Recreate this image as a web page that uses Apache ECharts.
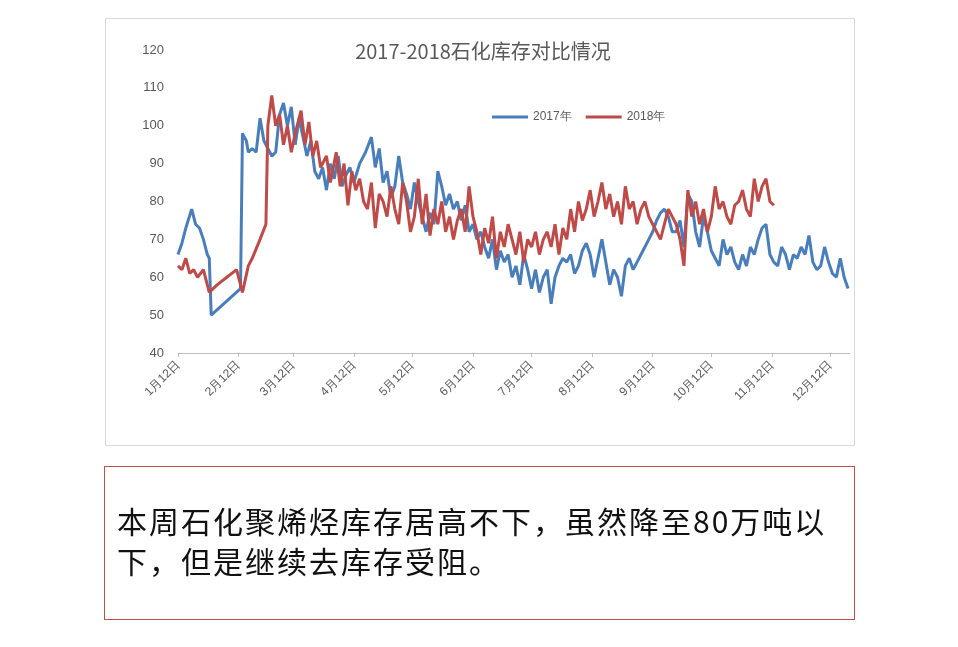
<!DOCTYPE html><html><head><meta charset="utf-8">
<script src="https://cdn.jsdelivr.net/npm/echarts@6/dist/echarts.min.js"></script>
<style>body{margin:0;background:#fff;font-family:"Noto Sans CJK SC",sans-serif}
#frame{position:absolute;left:105px;top:18px;width:748px;height:426px;border:1px solid #d9d9d9}
#c{position:absolute;left:0;top:0;width:958px;height:647px}
#note{position:absolute;left:104px;top:466px;width:751px;height:154px;border:1px solid #c0504d;box-sizing:border-box;padding:33px 0 0 12px;font-size:30px;letter-spacing:2px;line-height:40px;color:#111;font-family:"Noto Sans CJK SC",sans-serif}
</style></head><body>
<div id="frame"></div><div id="c"></div>
<div id="note">本周石化聚烯烃库存居高不下，虽然降至80万吨以<br>下，但是继续去库存受阻。</div>
<script>
const months=['1月','2月','3月','4月','5月','6月','7月','8月','9月','10月','11月','12月'];
const daysInMonth=[31,28,31,30,31,30,31,31,30,31,30,31];
// [day offset from 1月12日, value]
const series2017=[[0,66],[2,69],[4,73],[7,78],[9,74],[11,73],[13,70],[15,66],[16,65],[17,50],[32,57],[33,98],[35,96],[36,93],[38,94],[40,93],[42,102],[44,96],[46,94],[48,92],[50,93],[52,103],[54,106],[56,100],[58,105],[60,95],[62,102],[64,97],[66,92],[68,96],[70,88],[72,86],[74,89],[76,83],[78,90],[80,86],[82,92],[84,84],[86,87],[88,89],[90,85],[93,90],[96,93],[99,97],[101,89],[103,94],[105,85],[107,88],[109,81],[111,84],[113,92],[115,85],[117,82],[119,78],[121,85],[123,80],[125,76],[127,72],[129,77],[131,74],[133,88],[135,84],[137,79],[139,82],[141,78],[143,80],[145,75],[147,79],[149,72],[151,74],[153,70],[155,72],[157,68],[159,65],[161,70],[163,62],[165,67],[167,64],[169,66],[171,60],[173,63],[175,58],[177,66],[179,62],[181,57],[183,62],[185,56],[187,60],[189,62],[191,53],[193,60],[195,63],[197,65],[199,64],[201,66],[203,61],[205,63],[207,67],[209,69],[211,66],[213,60],[215,65],[217,70],[219,64],[221,58],[223,62],[225,60],[227,55],[229,63],[231,65],[233,62],[235,64],[237,66],[239,68],[241,70],[243,72],[245,75],[247,77],[249,78],[251,76],[253,72],[255,72],[257,75],[259,68],[261,82],[263,80],[265,72],[267,68],[269,76],[271,72],[273,67],[275,65],[277,63],[279,70],[281,66],[283,68],[285,64],[287,62],[289,66],[291,63],[293,68],[295,66],[297,70],[299,73],[301,74],[303,66],[305,64],[307,63],[309,68],[311,66],[313,62],[315,66],[317,65],[319,68],[321,66],[323,71],[325,64],[327,62],[329,63],[331,68],[333,64],[335,61],[337,60],[339,65],[341,60],[343,57]];
const series2018=[[0,63],[2,62],[4,65],[6,61],[8,62],[10,60],[13,62],[16,56],[20,58],[25,60],[30,62],[33,56],[36,63],[38,65],[42,70],[45,74],[46,100],[48,108],[50,100],[52,103],[54,95],[56,100],[58,93],[60,98],[63,104],[65,95],[67,101],[69,92],[71,96],[73,89],[76,92],[78,85],[81,93],[83,84],[85,90],[87,79],[89,88],[91,83],[93,86],[95,80],[97,78],[99,85],[101,73],[103,82],[105,80],[107,76],[109,84],[111,78],[113,74],[115,85],[117,80],[119,72],[121,76],[123,86],[125,74],[127,82],[129,71],[131,78],[133,74],[135,80],[137,72],[139,76],[141,70],[143,75],[145,78],[147,72],[149,84],[151,76],[153,72],[155,66],[157,73],[159,69],[161,76],[163,65],[165,72],[167,68],[169,74],[171,70],[173,66],[175,72],[177,64],[179,70],[181,68],[183,72],[185,66],[187,70],[189,72],[191,68],[193,74],[195,66],[197,73],[199,70],[201,78],[203,72],[205,80],[207,75],[209,78],[211,83],[213,76],[215,80],[217,85],[219,78],[221,82],[223,76],[225,80],[227,74],[229,84],[231,78],[233,80],[235,74],[237,78],[239,80],[241,76],[243,74],[245,72],[247,70],[249,74],[251,78],[253,76],[255,74],[257,70],[259,63],[261,83],[263,76],[265,80],[267,74],[269,78],[271,72],[273,76],[275,84],[277,78],[279,80],[281,76],[283,74],[285,79],[287,80],[289,83],[291,78],[293,76],[295,86],[297,80],[299,84],[301,86],[303,80],[305,79]];
const ticks=[40,50,60,70,80,90,100,110,120];

const cats=[];
for(let m=0;m<12;m++){for(let d=1;d<=daysInMonth[m];d++){cats.push(months[m]+d+'日');}}
const start=11, total=345;
const xcats=cats.slice(start,start+total);
const chart=echarts.init(document.getElementById('c'));
const isTick=(i,v)=>/月12日$/.test(v);
chart.setOption({
  animation:false,
  title:{text:'2017-2018石化库存对比情况',left:478,top:36,textAlign:'center',textStyle:{fontSize:20,fontWeight:'normal',color:'#595959',fontFamily:'Noto Sans CJK SC'}},
  legend:{left:487,top:106,itemWidth:36,itemHeight:3,itemGap:14,icon:'rect',textStyle:{fontSize:12,color:'#595959'},data:['2017年','2018年']},
  grid:{left:178,top:50,right:108,bottom:294},
  xAxis:{type:'category',data:xcats,boundaryGap:false,
    axisLine:{lineStyle:{color:'#bfbfbf'}},
    axisTick:{interval:isTick,length:4,lineStyle:{color:'#bfbfbf'}},
    axisLabel:{interval:isTick,rotate:45,color:'#595959',fontSize:12,margin:10}},
  yAxis:{type:'value',min:40,max:120,interval:10,axisLine:{show:false},axisTick:{show:false},splitLine:{show:false},
    axisLabel:{color:'#595959',fontSize:13,margin:14}},
  series:[
    {name:'2017年',type:'line',data:series2017,showSymbol:false,lineStyle:{width:3,color:'#4a7ebb'},itemStyle:{color:'#4a7ebb'}},
    {name:'2018年',type:'line',data:series2018,showSymbol:false,lineStyle:{width:3,color:'#be4b48'},itemStyle:{color:'#be4b48'}}
  ]
});
</script></body></html>
